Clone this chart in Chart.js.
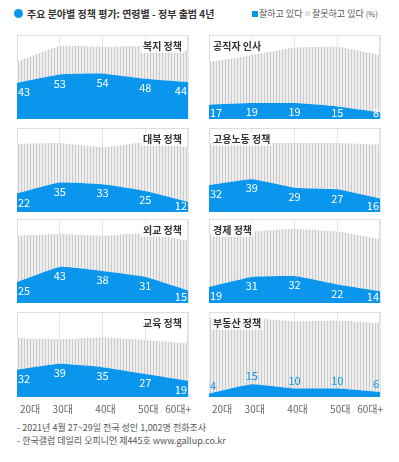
<!DOCTYPE html>
<html>
<head>
<meta charset="utf-8">
<script src="https://cdn.jsdelivr.net/npm/chart.js@4.4.1/dist/chart.umd.min.js"></script>
<style>
  body { margin: 0; background: #fff; font-family: "Noto Sans CJK KR", "Noto Sans", sans-serif; }
  #wrap { position: relative; width: 399px; height: 462px; overflow: hidden; }
  canvas { position: absolute; }
  .txt { position: absolute; white-space: nowrap; }
</style>
</head>
<body>
<div id="wrap">
  <div class="txt" style="left:14px;top:9px;width:9px;height:9px;border-radius:50%;background:#0b96ee;"></div>
  <div class="txt" style="left:27px;top:6px;font-size:10px;font-weight:bold;color:#333;">주요 분야별 정책 평가: 연령별 - 정부 출범 4년</div>
  <div class="txt" style="left:252px;top:11px;width:6px;height:6px;background:#0b96ee;"></div>
  <div class="txt" style="left:259px;top:7px;font-size:9px;color:#555;">잘하고 있다</div>
  <div class="txt" style="left:305px;top:11px;width:5px;height:5px;background:#e2e2e2;"></div>
  <div class="txt" style="left:312px;top:7px;font-size:9px;color:#555;">잘못하고 있다 <span style="font-size:7.5px">(%)</span></div>
  <div class="txt" style="left:17px;top:421px;font-size:9px;color:#555;">- 2021년 4월 27~29일 전국 성인 1,002명 전화조사</div>
  <div class="txt" style="left:17px;top:434px;font-size:9px;color:#555;">- 한국갤럽 데일리 오피니언 제445호 www.gallup.co.kr</div>
</div>
<script>
// age groups
const categories = ["20대", "30대", "40대", "50대", "60대+"];
const policyNames = ["복지 정책", "공직자 인사", "대북 정책", "고용노동 정책", "외교 정책", "경제 정책", "교육 정책", "부동산 정책"];

// 잘하고 있다 / 잘못하고 있다 (%)
const welfareGood = [43, 53, 54, 48, 44];
const welfareBad = [25, 34, 32, 39, 37];
const personnelGood = [17, 19, 19, 15, 8];
const personnelBad = [51, 57, 66, 71, 68];
const northGood = [22, 35, 33, 25, 12];
const northBad = [59, 47, 44, 58, 65];
const laborGood = [32, 39, 29, 27, 16];
const laborBad = [50, 43, 53, 55, 64];
const foreignGood = [25, 43, 38, 31, 15];
const foreignBad = [55, 39, 42, 52, 59];
const economyGood = [19, 31, 32, 22, 14];
const economyBad = [63, 54, 56, 63, 62];
const educationGood = [32, 39, 35, 27, 19];
const educationBad = [37, 29, 35, 40, 44];
const housingGood = [4, 15, 10, 10, 6];
const housingBad = [89, 78, 79, 80, 81];

const goodSeries = [welfareGood, personnelGood, northGood, laborGood, foreignGood, economyGood, educationGood, housingGood];
const badSeries = [welfareBad, personnelBad, northBad, laborBad, foreignBad, economyBad, educationBad, housingBad];

const BLUE = "#0b96ee";
const FONT = '"Noto Sans CJK KR", "Noto Sans", sans-serif';
const rowTops = [35, 128, 219, 312];
const PANEL_H = 84;

// vertical stripe fill for the grey area
function stripePattern() {
  const c = document.createElement("canvas");
  c.width = 3; c.height = 8;
  const g = c.getContext("2d");
  g.fillStyle = "#eeeeee";
  g.fillRect(0, 0, 3, 8);
  g.fillStyle = "#cbcbcb";
  g.fillRect(0, 0, 1, 8);
  return g.createPattern(c, "repeat");
}
const stripes = stripePattern();

const panelDeco = {
  id: "panelDeco",
  beforeDatasetsDraw(chart) {
    const { ctx, chartArea: a } = chart;
    ctx.save();
    ctx.strokeStyle = "#dddddd";
    ctx.lineWidth = 1;
    ctx.strokeRect(a.left + 0.5, a.top + 0.5, a.width - 1, a.height - 1);
    ctx.restore();
  },
  afterDatasetsDraw(chart, args, opts) {
    const { ctx, chartArea: a } = chart;
    const meta = chart.getDatasetMeta(0);
    const vals = chart.data.datasets[0].data;
    ctx.save();
    ctx.font = "11px " + FONT;
    ctx.textBaseline = "middle";
    meta.data.forEach((pt, i) => {
      let y;
      if (opts.above) {
        ctx.fillStyle = BLUE;
        y = pt.y - 8;
      } else {
        ctx.fillStyle = "#ffffff";
        y = Math.min(pt.y + 9, a.bottom - 6);
      }
      let x = pt.x;
      if (i === 0) { ctx.textAlign = "left"; x += 1; }
      else if (i === meta.data.length - 1) { ctx.textAlign = "right"; x -= 1; }
      else ctx.textAlign = "center";
      ctx.fillText(String(vals[i]), x, y);
    });

    // panel title
    ctx.font = "bold 10px " + FONT;
    const w = ctx.measureText(opts.title).width;
    let tx;
    if (opts.side === "right") { tx = a.right - 6 - w; }
    else { tx = a.left + 4; }
    const ty = a.top + 11;
    ctx.fillStyle = "rgba(255,255,255,0.75)";
    ctx.fillRect(tx - 2, ty - 7, w + 4, 14);
    ctx.fillStyle = "#333333";
    ctx.textAlign = "left";
    ctx.fillText(opts.title, tx, ty);
    ctx.restore();
  }
};

function makePanel(idx) {
  const col = idx % 2;
  const row = Math.floor(idx / 2);
  const bottomRow = row === 3;
  const canvas = document.createElement("canvas");
  const W = 205;
  const H = bottomRow ? 4 + PANEL_H + 21 : 4 + PANEL_H + 4;
  canvas.width = W; canvas.height = H;
  canvas.style.left = (col === 0 ? 0 : 192) + "px";
  canvas.style.top = (rowTops[row] - 4) + "px";
  canvas.style.width = W + "px"; canvas.style.height = H + "px";
  document.getElementById("wrap").appendChild(canvas);

  new Chart(canvas, {
    type: "line",
    data: {
      labels: categories,
      datasets: [
        {
          label: "잘하고 있다",
          data: goodSeries[idx],
          backgroundColor: BLUE,
          borderWidth: 0,
          pointRadius: 0,
          fill: "origin",
          tension: 0.12
        },
        {
          label: "잘못하고 있다",
          data: badSeries[idx],
          backgroundColor: stripes,
          borderWidth: 0,
          pointRadius: 0,
          fill: "-1",
          tension: 0.12
        }
      ]
    },
    options: {
      responsive: false,
      animation: false,
      devicePixelRatio: 1,
      layout: { padding: { left: 17, right: 17, top: 4, bottom: bottomRow ? 0 : 4 } },
      plugins: {
        legend: { display: false },
        tooltip: { enabled: false },
        panelDeco: { title: policyNames[idx], side: col === 0 ? "right" : "left", above: idx === 7 }
      },
      scales: {
        x: {
          offset: false,
          border: { display: false },
          grid: { color: "#e6e6e6", drawTicks: false },
          ticks: {
            display: bottomRow,
            color: "#666",
            font: { size: 10, family: FONT },
            padding: 6,
            align: "inner",
            labelOffset: 3,
            maxRotation: 0,
            autoSkip: false
          },
          afterFit(scale) { scale.height = bottomRow ? 20 : 0; }
        },
        y: {
          display: false,
          stacked: true,
          min: 0,
          max: 100
        }
      }
    },
    plugins: [panelDeco]
  });
}

for (let i = 0; i < policyNames.length; i++) makePanel(i);
</script>
</body>
</html>
